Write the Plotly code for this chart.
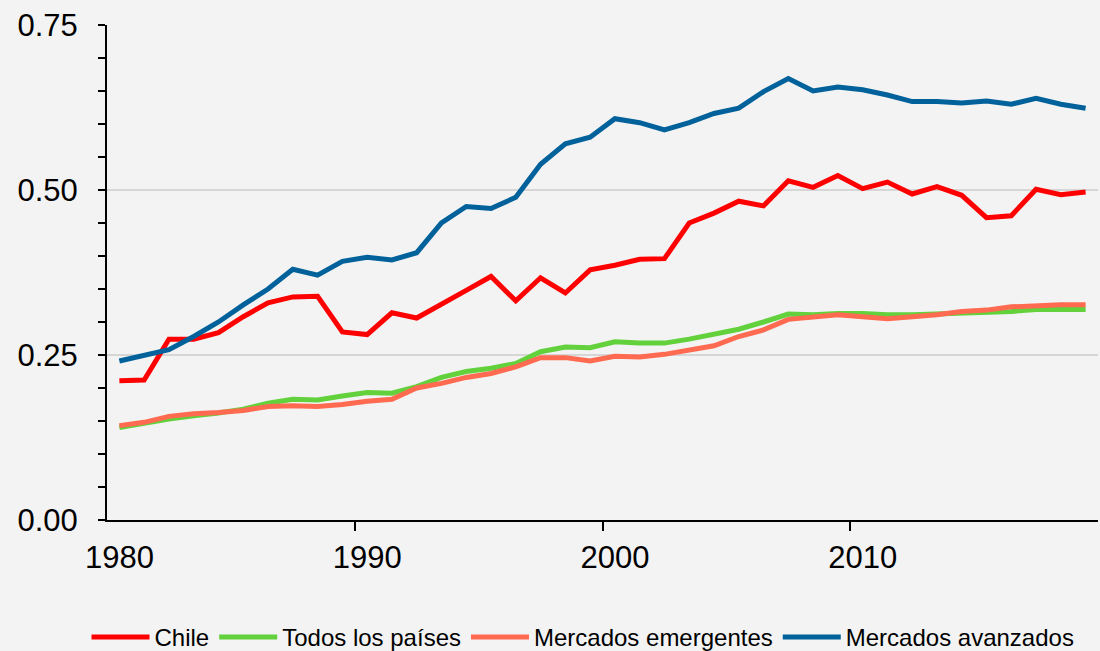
import plotly.graph_objects as go

years = list(range(1980, 2020))

chile = [0.211, 0.212, 0.274, 0.274, 0.284, 0.308, 0.329, 0.338, 0.339, 0.285,
         0.281, 0.314, 0.306, 0.328, 0.348, 0.369, 0.332, 0.367, 0.344, 0.379,
         0.386, 0.395, 0.396, 0.450, 0.465, 0.483, 0.476, 0.514, 0.504, 0.522,
         0.502, 0.512, 0.494, 0.505, 0.492, 0.458, 0.461, 0.501, 0.493, 0.497]

todos = [0.140, 0.147, 0.153, 0.158, 0.162, 0.168, 0.177, 0.183, 0.182, 0.188,
         0.193, 0.192, 0.202, 0.216, 0.225, 0.230, 0.237, 0.255, 0.262, 0.261,
         0.270, 0.268, 0.268, 0.274, 0.281, 0.289, 0.300, 0.312, 0.311, 0.313,
         0.313, 0.311, 0.311, 0.312, 0.313, 0.315, 0.316, 0.319, 0.319, 0.319]

emergentes = [0.143, 0.148, 0.157, 0.161, 0.163, 0.166, 0.172, 0.173, 0.172, 0.175,
              0.180, 0.183, 0.200, 0.207, 0.216, 0.222, 0.232, 0.246, 0.246, 0.241,
              0.248, 0.247, 0.251, 0.257, 0.264, 0.278, 0.288, 0.304, 0.308, 0.311,
              0.308, 0.305, 0.308, 0.311, 0.316, 0.318, 0.323, 0.325, 0.326, 0.326]

avanzados = [0.241, 0.249, 0.258, 0.278, 0.300, 0.326, 0.350, 0.380, 0.371, 0.392,
             0.398, 0.394, 0.405, 0.450, 0.475, 0.472, 0.489, 0.539, 0.570, 0.580,
             0.608, 0.602, 0.591, 0.602, 0.616, 0.624, 0.649, 0.669, 0.650, 0.656,
             0.652, 0.644, 0.634, 0.634, 0.632, 0.635, 0.630, 0.639, 0.630, 0.624]

series_names = ["Chile", "Todos los países", "Mercados emergentes", "Mercados avanzados"]
series_values = [chile, todos, emergentes, avanzados]
series_colors = ["#FF0000", "#62D13C", "#FF6A50", "#00619B"]

x_tickvals = [1980, 1990, 2000, 2010]
x_ticktext = ["1980", "1990", "2000", "2010"]
y_tickvals = [0.0, 0.25, 0.5, 0.75]
y_ticktext = ["0.00", "0.25", "0.50", "0.75"]

FONT = "Liberation Sans, Arial, sans-serif"

fig = go.Figure()
for name, vals, col in zip(series_names, series_values, series_colors):
    fig.add_trace(go.Scatter(
        x=years, y=vals, name=name, mode="lines",
        line=dict(color=col, width=5),
    ))

fig.update_layout(
    width=1100, height=651,
    margin=dict(l=107, r=2, t=25, b=131),
    paper_bgcolor="#F3F3F3",
    plot_bgcolor="#F3F3F3",
    font=dict(family=FONT, color="#000000"),
    showlegend=True,
    legend=dict(
        orientation="h",
        xref="container", yref="container",
        x=0.53, xanchor="center",
        y=0.021, yanchor="middle",
        font=dict(size=24, family=FONT),
        itemwidth=58,
        bgcolor="rgba(0,0,0,0)",
        tracegroupgap=0,
    ),
)

fig.update_xaxes(
    range=[1979.5, 2019.5],
    tickmode="array", tickvals=x_tickvals, ticktext=x_ticktext,
    ticks="inside", ticklen=0, tickwidth=1.5, tickcolor="#000000",
    minor=dict(tick0=1979.5, dtick=10, ticklen=9, tickwidth=1.5, tickcolor="#000000", showgrid=False),
    showline=True, linecolor="#000000", linewidth=2,
    showgrid=False, zeroline=False,
    tickfont=dict(size=31, family=FONT, color="#000000"),
    ticklabelstandoff=9,
)

fig.update_yaxes(
    range=[0, 0.75],
    tickmode="array", tickvals=y_tickvals, ticktext=y_ticktext,
    ticks="outside", ticklen=7, tickwidth=1.5, tickcolor="#000000",
    minor=dict(dtick=0.05, tick0=0, ticklen=7, tickwidth=1.5, tickcolor="#000000", ticks="outside", showgrid=False),
    showline=True, linecolor="#000000", linewidth=2,
    showgrid=True, gridcolor="#D6D6D6", gridwidth=1.5,
    zeroline=False,
    tickfont=dict(size=31, family=FONT, color="#000000"),
    ticklabelstandoff=14,
)

fig.write_html(
    "out.html",
    config={"displayModeBar": False},
    post_script="document.body.style.margin='0';document.body.style.padding='0';document.body.style.background='#F3F3F3';",
)
